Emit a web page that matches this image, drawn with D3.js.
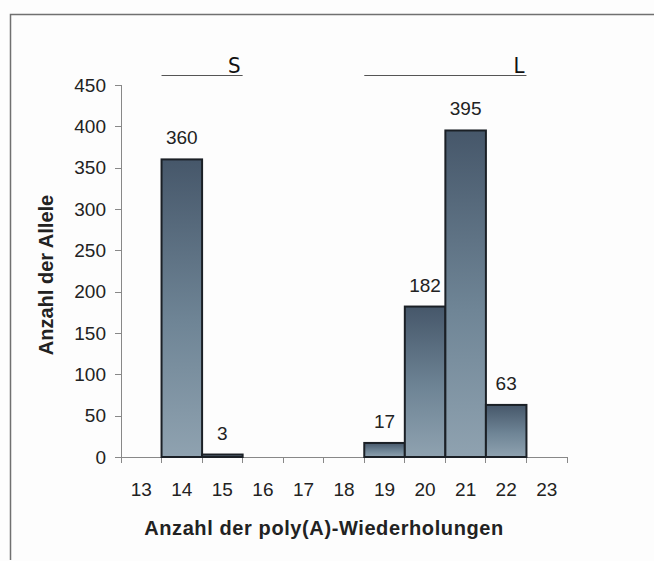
<!DOCTYPE html>
<html lang="de">
<head>
<meta charset="utf-8"/>
<title>poly(A)-Wiederholungen</title>
<style>
    body { margin: 0; background: #fdfdfd; }
    .axis text { font: 19px "Liberation Sans", Arial, sans-serif; fill: #222; }
    .axis path, .axis line { stroke: #888; shape-rendering: crispEdges; }
    .lbl { font: 19px "Liberation Sans", Arial, sans-serif; fill: #222; }
    .title { font: bold 20px "Liberation Sans", Arial, sans-serif; fill: #222; }
    .grp { font: 22px "DejaVu Sans Condensed", "Liberation Sans Narrow", sans-serif; fill: #111; }
</style>
</head>
<body>
<div id="graph"></div>
<script src="https://d3js.org/d3.v7.min.js"></script>
<script>
    var repeats = ["13", "14", "15", "16", "17", "18", "19", "20", "21", "22", "23"];
    var alleles = [null, 360, 3, null, null, null, 17, 182, 395, 63, null];
    var yTicks = [0, 50, 100, 150, 200, 250, 300, 350, 400, 450];
    var groups = [
        { name: "S", from: "14", to: "15" },
        { name: "L", from: "19", to: "22" }
    ];

    var data = repeats.map(function (r, i) { return { r: r, v: alleles[i] }; });

    var width = 654, height = 561;
    var svg = d3.select("#graph").append("svg")
        .attr("width", width).attr("height", height);

    // outer frame (top + left only)
    svg.append("path")
        .attr("d", "M10.5,560V14.5H654")
        .attr("fill", "none").attr("stroke", "#707070").attr("stroke-width", 1.5);

    var x = d3.scaleBand().domain(repeats).range([121, 567]).padding(0);
    var y = d3.scaleLinear().domain([0, 450]).range([457, 85]);

    var defs = svg.append("defs");
    var grad = defs.append("linearGradient")
        .attr("id", "barGrad").attr("x1", 0).attr("y1", 0).attr("x2", 0).attr("y2", 1);
    grad.append("stop").attr("offset", "0%").attr("stop-color", "#46576a");
    grad.append("stop").attr("offset", "55%").attr("stop-color", "#6f8596");
    grad.append("stop").attr("offset", "100%").attr("stop-color", "#8fa2b0");

    svg.append("g")
        .attr("class", "y axis")
        .attr("transform", "translate(121,0)")
        .call(d3.axisLeft(y).tickValues(yTicks).tickSize(6).tickPadding(9))
        .call(function (g) { g.select(".domain").attr("d", "M-6,85.5H0.5V457.5"); });

    var xAxis = svg.append("g")
        .attr("class", "x axis")
        .attr("transform", "translate(0,457)");
    xAxis.append("line")
        .attr("x1", 121).attr("x2", 567).attr("y1", 0.5).attr("y2", 0.5)
        .attr("stroke", "#888");
    xAxis.selectAll(".tk")
        .data(repeats.concat(["end"]))
        .enter().append("line")
        .attr("class", "tk")
        .attr("x1", function (d, i) { return 121 + i * x.bandwidth(); })
        .attr("x2", function (d, i) { return 121 + i * x.bandwidth(); })
        .attr("y1", 0).attr("y2", 6)
        .attr("stroke", "#888");
    xAxis.selectAll(".tl")
        .data(repeats)
        .enter().append("text")
        .attr("class", "tl")
        .attr("x", function (d) { return x(d) + x.bandwidth() / 2; })
        .attr("y", 39)
        .attr("text-anchor", "middle")
        .text(function (d) { return d; });

    var bars = data.filter(function (d) { return d.v != null; });

    svg.selectAll(".bar")
        .data(bars)
        .enter().append("rect")
        .attr("class", "bar")
        .attr("x", function (d) { return x(d.r); })
        .attr("y", function (d) { return y(d.v); })
        .attr("width", x.bandwidth())
        .attr("height", function (d) { return y(0) - y(d.v); })
        .attr("fill", "url(#barGrad)")
        .attr("stroke", "#1b2026")
        .attr("stroke-width", 2);

    svg.selectAll(".lbl")
        .data(bars)
        .enter().append("text")
        .attr("class", "lbl")
        .attr("x", function (d) { return x(d.r) + x.bandwidth() / 2; })
        .attr("y", function (d) { return y(d.v) - 15; })
        .attr("text-anchor", "middle")
        .text(function (d) { return d.v; });

    // group brackets S / L
    groups.forEach(function (g) {
        var x0 = x(g.from), x1 = x(g.to) + x.bandwidth();
        svg.append("line")
            .attr("x1", x0).attr("x2", x1).attr("y1", 75.5).attr("y2", 75.5)
            .attr("stroke", "#555").attr("stroke-width", 1);
        svg.append("text")
            .attr("class", "grp")
            .attr("x", x1 - 2).attr("y", 73)
            .attr("text-anchor", "end")
            .text(g.name);
    });

    svg.append("text")
        .attr("class", "title")
        .attr("x", 324).attr("y", 535)
        .attr("text-anchor", "middle")
        .style("letter-spacing", "0.6px")
        .text("Anzahl der poly(A)-Wiederholungen");

    svg.append("text")
        .attr("class", "title")
        .attr("transform", "translate(53,275) rotate(-90)")
        .attr("text-anchor", "middle")
        .text("Anzahl der Allele");
</script>
</body>
</html>
